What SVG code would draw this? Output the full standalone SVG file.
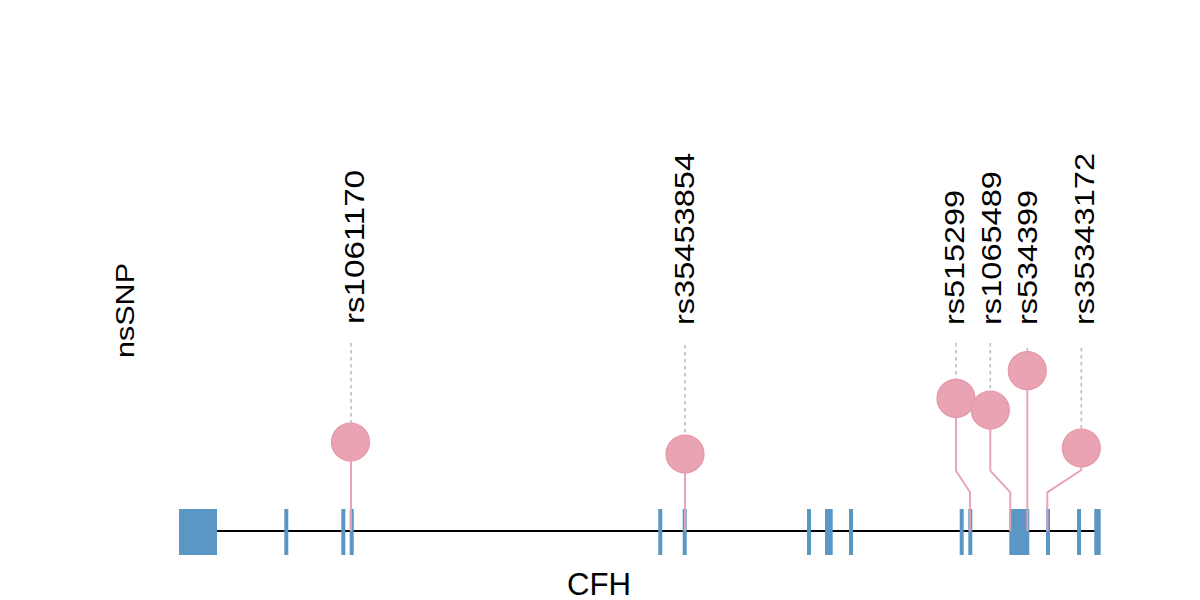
<svg xmlns="http://www.w3.org/2000/svg" width="1200" height="600" viewBox="0 0 1200 600">
<style>
.exon{fill:#5b97c4;stroke:none}
.gene{stroke:#000;stroke-width:2;fill:none}
.dot{stroke:#bdbdbd;stroke-width:1.6;stroke-dasharray:3.5 3.5;fill:none}
.stem{stroke:#e8a0b3;stroke-width:2;fill:none;opacity:0.95}
.head{fill:#e9a3b2;stroke:#e596aa;stroke-width:1.2}
.lab{font-family:"Liberation Sans",Arial,sans-serif;font-size:28px;fill:#000}
</style>
<rect width="1200" height="600" fill="#fff"/>
<g id="gene">
<line class="gene" x1="180" y1="531" x2="1096" y2="531"/>
<rect class="exon" x="179" y="509" width="38" height="46"/>
<rect class="exon" x="284.3" y="509" width="4" height="46"/>
<rect class="exon" x="341.3" y="509" width="4" height="46"/>
<rect class="exon" x="349.7" y="509" width="4" height="46"/>
<rect class="exon" x="658.3" y="509" width="4" height="46"/>
<rect class="exon" x="682.7" y="509" width="4" height="46"/>
<rect class="exon" x="807" y="509" width="4" height="46"/>
<rect class="exon" x="825" y="509" width="7.7" height="46"/>
<rect class="exon" x="849" y="509" width="4" height="46"/>
<rect class="exon" x="959.7" y="509" width="4" height="46"/>
<rect class="exon" x="968.3" y="509" width="4" height="46"/>
<rect class="exon" x="1009.3" y="509" width="20" height="46"/>
<rect class="exon" x="1046" y="509" width="4" height="46"/>
<rect class="exon" x="1077" y="509" width="4" height="46"/>
<rect class="exon" x="1094.3" y="509" width="6.4" height="46"/>
</g>
<g id="connectors">
<line class="dot" x1="351" y1="343" x2="351" y2="423"/>
<line class="dot" x1="685" y1="345" x2="685" y2="435"/>
<line class="dot" x1="956" y1="343" x2="956" y2="379"/>
<line class="dot" x1="990.3" y1="343" x2="990.3" y2="391"/>
<line class="dot" x1="1027.3" y1="348" x2="1027.3" y2="352"/>
<line class="dot" x1="1081.3" y1="348" x2="1081.3" y2="429"/>
<polyline class="stem" points="351,461 351,531"/>
<polyline class="stem" points="685,473 685,531"/>
<polyline class="stem" points="956,417 956,470.7 970,492.3 970,531"/>
<polyline class="stem" points="990.3,429 990.3,470.7 1010.3,492.3 1010.3,531"/>
<polyline class="stem" points="1027.3,390 1027.3,531"/>
<polyline class="stem" points="1081.3,467 1081.3,470 1047.3,492.3 1047.3,531"/>
</g>
<g id="snp-rs1061170"><circle class="head" cx="350.5" cy="442" r="19"/><text class="lab" transform="translate(364,324) rotate(-90)" textLength="154" lengthAdjust="spacingAndGlyphs">rs1061170</text></g>
<g id="snp-rs35453854"><circle class="head" cx="685" cy="454" r="19"/><text class="lab" transform="translate(694,325) rotate(-90)" textLength="172" lengthAdjust="spacingAndGlyphs">rs35453854</text></g>
<g id="snp-rs515299"><circle class="head" cx="956" cy="398.3" r="19"/><text class="lab" transform="translate(964,325) rotate(-90)" textLength="135" lengthAdjust="spacingAndGlyphs">rs515299</text></g>
<g id="snp-rs1065489"><circle class="head" cx="990.3" cy="410" r="19"/><text class="lab" transform="translate(1000.5,325) rotate(-90)" textLength="154" lengthAdjust="spacingAndGlyphs">rs1065489</text></g>
<g id="snp-rs534399"><circle class="head" cx="1027.3" cy="370.7" r="19"/><text class="lab" transform="translate(1037,325) rotate(-90)" textLength="135" lengthAdjust="spacingAndGlyphs">rs534399</text></g>
<g id="snp-rs35343172"><circle class="head" cx="1081.3" cy="448" r="19"/><text class="lab" transform="translate(1094,325) rotate(-90)" textLength="172" lengthAdjust="spacingAndGlyphs">rs35343172</text></g>
<g id="track-label"><text class="lab" style="font-size:26px" transform="translate(133.5,310.5) rotate(-90)" text-anchor="middle" textLength="95" lengthAdjust="spacingAndGlyphs">nsSNP</text></g>
<g id="gene-label"><text class="lab" style="font-size:32px" x="599" y="595" text-anchor="middle" textLength="64" lengthAdjust="spacingAndGlyphs">CFH</text></g>
</svg>
